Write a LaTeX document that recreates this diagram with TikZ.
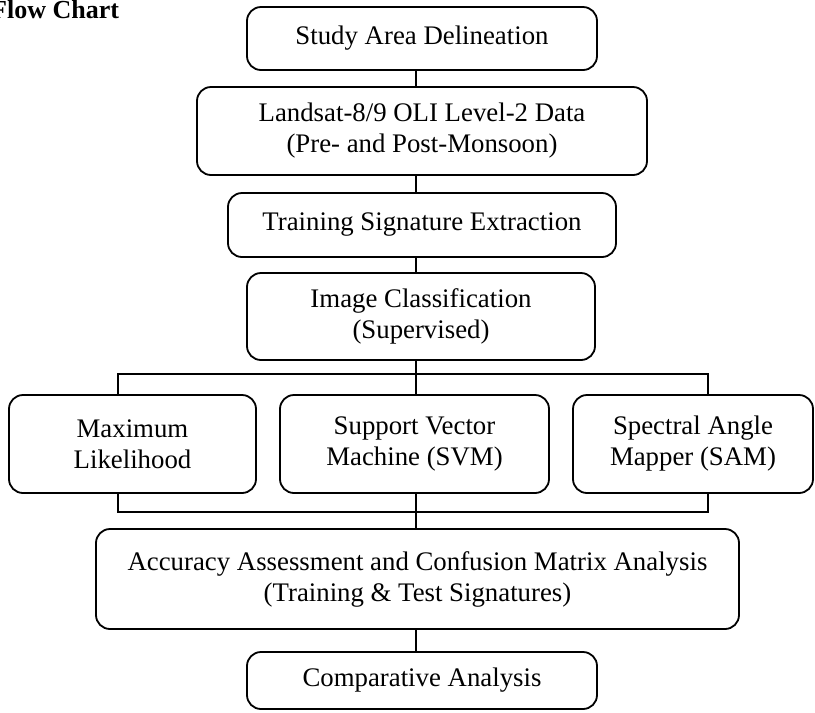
\documentclass[tikz,border=0pt]{standalone}
\usepackage{fontspec}
\setmainfont{Liberation Serif}
\begin{document}
\begin{tikzpicture}[x=1pt,y=-1pt,
  flowbox/.style={draw=black,line width=1.8pt,rounded corners=14pt,inner sep=0pt,
    align=center,font=\fontsize{26.8}{31}\selectfont,anchor=center},
  link/.style={draw=black,line width=1.8pt}]
\useasboundingbox (0,0) rectangle (815,713);
\node[anchor=base west,inner sep=0pt,font=\fontsize{26}{30}\selectfont\bfseries] (title) at (-9,18) {Flow Chart};
\node[flowbox,minimum width=350pt,minimum height=63pt] (b1) at (422,38.5) {Study Area Delineation};
\node[flowbox,minimum width=450pt,minimum height=88pt] (b2) at (422,131) {Landsat-8/9 OLI Level-2 Data\\(Pre- and Post-Monsoon)};
\node[flowbox,minimum width=388pt,minimum height=64pt] (b3) at (422,225) {Training Signature Extraction};
\node[flowbox,minimum width=348pt,minimum height=87pt] (b4) at (421,316.5) {Image Classification\\(Supervised)};
\node[flowbox,minimum width=247pt,minimum height=98pt] (ml) at (132.5,444) {Maximum\\Likelihood};
\node[flowbox,minimum width=269pt,minimum height=98pt] (svm) at (414.5,444) {Support Vector\\Machine (SVM)};
\node[flowbox,minimum width=240pt,minimum height=98pt] (sam) at (693,444) {Spectral Angle\\Mapper (SAM)};
\node[flowbox,minimum width=643pt,minimum height=100pt] (acc) at (417.5,579) {Accuracy Assessment and Confusion Matrix Analysis\\(Training \& Test Signatures)};
\node[flowbox,minimum width=350pt,minimum height=57pt] (cmp) at (422,680.5) {Comparative Analysis};
\coordinate (spine) at (416,0);
\coordinate (mlx) at (118,0);
\coordinate (samx) at (708,0);
\coordinate (split) at (416,374);
\coordinate (merge) at (416,512);
\draw[link] (b1.south -| spine) -- (b2.north -| spine);
\draw[link] (b2.south -| spine) -- (b3.north -| spine);
\draw[link] (b3.south -| spine) -- (b4.north -| spine);
\draw[link] (b4.south -| spine) -- (split);
\draw[link] (ml.north -| mlx) |- (split) -| (sam.north -| samx);
\draw[link] (split) -- (svm.north -| spine);
\draw[link] (ml.south -| mlx) |- (merge) -| (sam.south -| samx);
\draw[link] (svm.south -| spine) -- (merge);
\draw[link] (merge) -- (acc.north -| spine);
\draw[link] (acc.south -| spine) -- (cmp.north -| spine);
\end{tikzpicture}
\end{document}
